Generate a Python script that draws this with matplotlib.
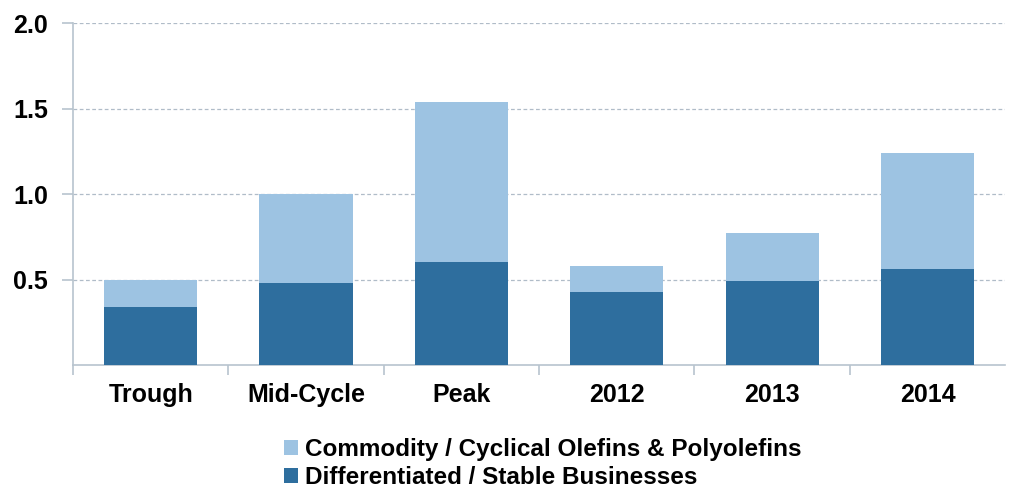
import matplotlib
matplotlib.use("Agg")
import matplotlib.pyplot as plt
import numpy as np

categories = ["Trough", "Mid-Cycle", "Peak", "2012", "2013", "2014"]
stable = [0.34, 0.48, 0.60, 0.43, 0.49, 0.56]
commodity_total = [0.50, 1.00, 1.54, 0.58, 0.77, 1.24]
commodity = [t - s for t, s in zip(commodity_total, stable)]
yticks = [0.5, 1.0, 1.5, 2.0]

DARK = "#2E6E9E"
LIGHT = "#9DC3E2"
AXIS = "#B8C4CE"

plt.rcParams["font.family"] = ["Liberation Sans", "DejaVu Sans"]
plt.rcParams["font.weight"] = "bold"

fig = plt.figure(figsize=(10.09, 4.9), dpi=100)
ax = fig.add_axes([0.0723, 0.255, 0.924, 0.698])

x = np.arange(len(categories))
b1 = ax.bar(x, stable, width=0.6, color=DARK, zorder=3)
b2 = ax.bar(x, commodity, width=0.6, bottom=stable, color=LIGHT, zorder=3)

ax.set_xlim(-0.5, len(categories) - 0.5)
ax.set_ylim(0, 2.0)
ax.set_yticks(yticks)
ax.set_yticklabels([f"{v:.1f}" for v in yticks], fontsize=18, fontweight="bold")
ax.yaxis.grid(True, linestyle=(0, (3, 2)), color="#B0BCC8", linewidth=0.9, zorder=0)

ax.set_xticks(x)
ax.set_xticklabels(categories, fontsize=18, fontweight="bold")
ax.set_xticks(np.arange(len(categories)) - 0.5, minor=True)
ax.tick_params(axis="x", which="major", length=0, pad=13)
ax.tick_params(axis="x", which="minor", length=7, color=AXIS, width=1.2)
ax.tick_params(axis="y", length=8, color=AXIS, width=1.2, pad=10)

for side in ["top", "right"]:
    ax.spines[side].set_visible(False)
for side in ["left", "bottom"]:
    ax.spines[side].set_color(AXIS)
    ax.spines[side].set_linewidth(1.2)

fig.legend([b2, b1],
           ["Commodity / Cyclical Olefins & Polyolefins",
            "Differentiated / Stable Businesses"],
           loc="upper left", bbox_to_anchor=(0.281, 0.106),
           frameon=False, prop={"size": 17.5, "weight": "bold"},
           handlelength=0.6, handleheight=0.6, handletextpad=0.3,
           labelspacing=0.2, borderaxespad=0, borderpad=0)

fig.savefig("out.png", dpi=100)
